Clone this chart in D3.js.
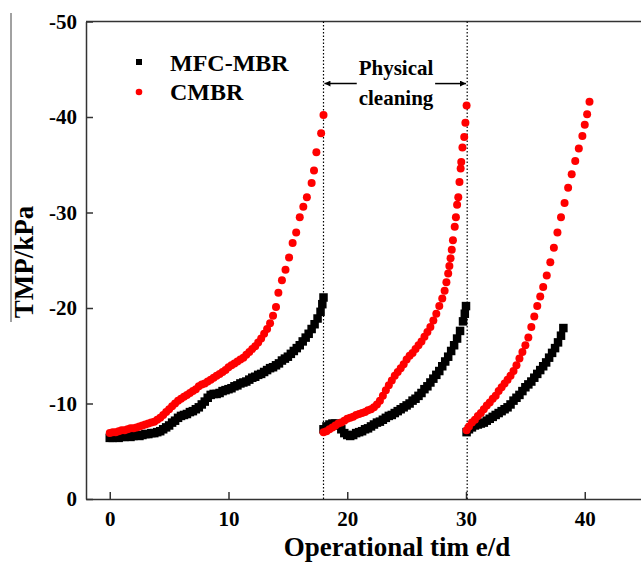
<!DOCTYPE html>
<html>
<head>
<meta charset="utf-8">
<script src="https://cdn.jsdelivr.net/npm/d3@7"></script>
<style>
  body { margin: 0; background: #fff; }
  svg { display: block; }
</style>
</head>
<body>
<script>
// Axis ticks
const xTicks = [0, 10, 20, 30, 40];
const yTicks = [0, -10, -20, -30, -40, -50];

// Days on which the membranes were physically cleaned
const cleaningDays = [18, 30.1];

const seriesNames = ["MFC-MBR", "CMBR"];

// TMP (kPa) vs operational time (d), MFC-MBR, one array per filtration run
const mfcRun1 = [
  [0,-6.4],[0.25,-6.4],[0.5,-6.5],[0.75,-6.4],[1,-6.5],[1.25,-6.5],[1.5,-6.6],[1.75,-6.5],
  [2,-6.6],[2.25,-6.7],[2.5,-6.6],[2.75,-6.7],[3,-6.8],[3.25,-6.8],[3.5,-6.9],[3.75,-6.9],
  [4,-7.0],[4.25,-7.1],[4.5,-7.3],[4.75,-7.5],[5,-7.7],[5.25,-8.0],[5.5,-8.2],[5.75,-8.5],
  [6,-8.7],[6.25,-8.8],[6.5,-8.9],[6.75,-9.1],[7,-9.2],[7.25,-9.4],[7.5,-9.6],[7.75,-9.9],
  [8,-10.2],[8.25,-10.6],[8.5,-10.9],[8.75,-11.0],[9,-11.0],[9.25,-11.1],[9.5,-11.3],[9.75,-11.4],
  [10,-11.5],[10.25,-11.6],[10.5,-11.8],[10.75,-11.9],[11,-12.1],[11.25,-12.2],[11.5,-12.3],[11.75,-12.5],
  [12,-12.7],[12.25,-12.8],[12.5,-13.0],[12.75,-13.1],[13,-13.3],[13.25,-13.5],[13.5,-13.7],[13.75,-13.8],
  [14,-14.0],[14.25,-14.2],[14.5,-14.5],[14.75,-14.7],[15,-14.9],[15.25,-15.2],[15.5,-15.5],[15.75,-15.8],
  [16,-16.1],[16.25,-16.5],[16.5,-16.9],[16.75,-17.3],[17,-17.8],[17.25,-18.3],[17.5,-18.9],[17.75,-19.6],
  [17.9,-20.4],[18,-21.1]
];
const mfcRun2 = [
  [18,-7.3],[18.25,-7.6],[18.5,-7.8],[18.75,-7.9],[19,-7.9],[19.25,-7.7],[19.5,-7.3],[19.75,-6.9],
  [20,-6.7],[20.25,-6.6],[20.5,-6.7],[20.75,-6.9],[21,-7.0],[21.25,-7.1],[21.5,-7.3],[21.75,-7.4],
  [22,-7.6],[22.25,-7.8],[22.5,-8.0],[22.75,-8.1],[23,-8.3],[23.25,-8.5],[23.5,-8.7],[23.75,-8.8],
  [24,-9.0],[24.25,-9.2],[24.5,-9.4],[24.75,-9.6],[25,-9.8],[25.25,-10.0],[25.5,-10.3],[25.75,-10.5],
  [26,-10.8],[26.25,-11.1],[26.5,-11.5],[26.75,-11.8],[27,-12.2],[27.25,-12.6],[27.5,-13.0],[27.75,-13.4],
  [28,-13.9],[28.25,-14.4],[28.5,-14.9],[28.75,-15.5],[29,-16.1],[29.25,-16.8],[29.5,-17.6],[29.75,-18.6],
  [29.9,-19.4],[30,-20.2]
];
const mfcRun3 = [
  [30.05,-7.0],[30.25,-7.3],[30.5,-7.5],[30.75,-7.7],[31,-7.8],[31.25,-7.9],[31.5,-8.0],[31.75,-8.2],
  [32,-8.4],[32.25,-8.6],[32.5,-8.8],[32.75,-9.0],[33,-9.2],[33.25,-9.4],[33.5,-9.6],[33.75,-9.9],
  [34,-10.3],[34.25,-10.6],[34.5,-10.9],[34.75,-11.3],[35,-11.7],[35.25,-12.0],[35.5,-12.3],[35.75,-12.7],
  [36,-13.1],[36.25,-13.5],[36.5,-13.9],[36.75,-14.3],[37,-14.8],[37.25,-15.3],[37.5,-15.8],[37.75,-16.4],
  [38,-17.1],[38.2,-17.9]
];

// TMP (kPa) vs operational time (d), CMBR
const cmbrRun1 = [
  [0,-6.9],[0.25,-7.0],[0.5,-7.0],[0.75,-7.1],[1,-7.2],[1.25,-7.2],[1.5,-7.3],[1.75,-7.4],
  [2,-7.4],[2.25,-7.5],[2.5,-7.6],[2.75,-7.7],[3,-7.8],[3.25,-7.9],[3.5,-8.0],[3.75,-8.1],
  [4,-8.3],[4.25,-8.5],[4.5,-8.8],[4.75,-9.1],[5,-9.4],[5.25,-9.7],[5.5,-10.0],[5.75,-10.3],
  [6,-10.5],[6.25,-10.7],[6.5,-10.9],[6.75,-11.1],[7,-11.3],[7.25,-11.5],[7.5,-11.8],[7.75,-12.0],
  [8,-12.1],[8.25,-12.3],[8.5,-12.5],[8.75,-12.7],[9,-12.9],[9.25,-13.1],[9.5,-13.3],[9.75,-13.5],
  [10,-13.8],[10.25,-14.0],[10.5,-14.2],[10.75,-14.4],[11,-14.6],[11.25,-14.8],[11.5,-15.1],[11.75,-15.4],
  [12,-15.7],[12.25,-16.0],[12.5,-16.4],[12.75,-16.8],[13,-17.3],[13.25,-17.8],[13.5,-18.4],[13.75,-19.2],
  [14,-20.1],[14.2,-21.6],[14.5,-22.9],[14.8,-24.0],[15.1,-25.3],[15.4,-26.8],[15.7,-27.9],[16.0,-29.5],
  [16.3,-30.6],[16.6,-31.6],[17.0,-33.1],[17.2,-34.4],[17.4,-36.3],[17.8,-38.3],[18.0,-40.2]
];
const cmbrRun2 = [
  [18,-7.0],[18.25,-7.1],[18.5,-7.3],[18.75,-7.5],[19,-7.7],[19.25,-7.9],[19.5,-8.0],[19.75,-8.2],
  [20,-8.4],[20.25,-8.5],[20.5,-8.6],[20.75,-8.8],[21,-8.9],[21.25,-9.0],[21.5,-9.1],[21.75,-9.3],
  [22,-9.4],[22.25,-9.6],[22.5,-9.9],[22.75,-10.3],[23,-10.8],[23.25,-11.4],[23.5,-11.9],[23.75,-12.4],
  [24,-12.9],[24.25,-13.3],[24.5,-13.7],[24.75,-14.1],[25,-14.6],[25.25,-15.0],[25.5,-15.3],[25.75,-15.7],
  [26,-16.1],[26.25,-16.5],[26.5,-17.0],[26.75,-17.5],[27,-18.0],[27.25,-18.7],[27.5,-19.4],[27.75,-20.2],
  [28,-21.0],[28.2,-21.8],[28.35,-22.7],[28.5,-23.6],[28.6,-24.4],[28.7,-25.2],[28.8,-26.1],[28.9,-27.1],
  [29.05,-28.5],[29.15,-29.5],[29.25,-30.8],[29.35,-31.6],[29.45,-33.2],[29.55,-34.6],[29.6,-35.3],[29.7,-36.8],
  [29.85,-37.9],[29.95,-39.4],[30.05,-41.2]
];
const cmbrRun3 = [
  [30.05,-7.2],[30.25,-7.6],[30.5,-8.0],[30.75,-8.3],[31,-8.7],[31.25,-9.0],[31.5,-9.4],[31.75,-9.8],
  [32,-10.1],[32.25,-10.5],[32.5,-10.8],[32.75,-11.3],[33,-11.7],[33.25,-12.1],[33.5,-12.5],[33.75,-12.9],
  [34,-13.4],[34.25,-14.0],[34.5,-14.7],[34.75,-15.4],[35,-16.1],[35.25,-16.9],[35.5,-18.0],[35.75,-19.1],
  [36,-20.2],[36.25,-21.2],[36.5,-22.2],[36.8,-23.4],[37.1,-24.8],[37.4,-26.3],[37.7,-27.9],[38.0,-29.5],
  [38.3,-31.0],[38.6,-32.6],[38.9,-34.0],[39.2,-35.4],[39.5,-36.7],[39.8,-38.0],[40.0,-39.2],[40.2,-40.3],
  [40.4,-41.6]
];

const mfcData = [...mfcRun1, ...mfcRun2, ...mfcRun3];
const cmbrData = [...cmbrRun1, ...cmbrRun2, ...cmbrRun3];

const W = 641, H = 564;
const FONT = '"Liberation Serif", "Times New Roman", serif';
const INK = "#000";
const AXIS = "#333";
const RED = "#ff0000";

const svg = d3.select("body").append("svg")
  .attr("width", W).attr("height", H)
  .attr("font-family", FONT);

const x = d3.scaleLinear().domain([-2, 45]).range([86, 86 + 47 * 11.875]);
const y = d3.scaleLinear().domain([0, -50]).range([499, 21.5]);

// Frame: top border
svg.append("line")
  .attr("x1", x.range()[0]).attr("x2", x.range()[1])
  .attr("y1", y(-50)).attr("y2", y(-50))
  .attr("stroke", AXIS).attr("stroke-width", 1.5);

// X axis
const gx = svg.append("g")
  .attr("transform", `translate(0,${y(0)})`)
  .call(d3.axisBottom(x).tickValues(xTicks).tickSizeInner(-7).tickSizeOuter(0)
    .tickPadding(12).tickFormat(d => String(d)));

// Y axis
const gy = svg.append("g")
  .attr("transform", `translate(${x(-2)},0)`)
  .call(d3.axisLeft(y).tickValues(yTicks).tickSizeInner(-7).tickSizeOuter(0)
    .tickPadding(9).tickFormat(d => String(d)));

[gx, gy].forEach(g => {
  g.select(".domain").attr("stroke", AXIS).attr("stroke-width", 1.5);
  g.selectAll(".tick line").attr("stroke", AXIS).attr("stroke-width", 1.5);
  g.selectAll(".tick text")
    .attr("fill", INK).attr("font-family", FONT)
    .attr("font-size", 21).attr("font-weight", "bold");
});

// Physical cleaning markers
svg.selectAll("line.clean").data(cleaningDays).join("line")
  .attr("class", "clean")
  .attr("x1", d => x(d)).attr("x2", d => x(d))
  .attr("y1", y(-50)).attr("y2", y(0))
  .attr("stroke", INK).attr("stroke-width", 1.2)
  .attr("stroke-dasharray", "1.5,2");

// Arrow heads
const defs = svg.append("defs");
defs.append("marker")
  .attr("id", "head").attr("viewBox", "0 0 10 10")
  .attr("refX", 10).attr("refY", 5)
  .attr("markerWidth", 9).attr("markerHeight", 6)
  .attr("markerUnits", "userSpaceOnUse")
  .attr("orient", "auto")
  .append("path").attr("d", "M0,0 L10,5 L0,10 Z").attr("fill", INK);

const arrowY = y(-43.5);
svg.append("line")
  .attr("x1", x(20.8)).attr("x2", x(18.08))
  .attr("y1", arrowY).attr("y2", arrowY)
  .attr("stroke", INK).attr("stroke-width", 1.5)
  .attr("marker-end", "url(#head)");
svg.append("line")
  .attr("x1", x(27.4)).attr("x2", x(30.0))
  .attr("y1", arrowY).attr("y2", arrowY)
  .attr("stroke", INK).attr("stroke-width", 1.5)
  .attr("marker-end", "url(#head)");

svg.append("text")
  .attr("x", 396).attr("y", 75)
  .attr("text-anchor", "middle")
  .attr("font-size", 21).attr("font-weight", "bold").attr("fill", INK)
  .text("Physical");
svg.append("text")
  .attr("x", 396).attr("y", 105)
  .attr("text-anchor", "middle")
  .attr("font-size", 21).attr("font-weight", "bold").attr("fill", INK)
  .text("cleaning");

// Data points
const SQ = 8.5;
svg.append("g").selectAll("rect").data(mfcData).join("rect")
  .attr("x", d => x(d[0]) - SQ / 2)
  .attr("y", d => y(d[1]) - SQ / 2)
  .attr("width", SQ).attr("height", SQ)
  .attr("fill", INK);

svg.append("g").selectAll("circle").data(cmbrData).join("circle")
  .attr("cx", d => x(d[0]))
  .attr("cy", d => y(d[1]))
  .attr("r", 4)
  .attr("fill", RED);

// Legend
const legend = svg.append("g");
legend.append("rect")
  .attr("x", 136).attr("y", 59).attr("width", 6).attr("height", 6)
  .attr("fill", INK);
legend.append("circle")
  .attr("cx", 139).attr("cy", 92).attr("r", 3.3)
  .attr("fill", RED);
legend.selectAll("text").data(seriesNames).join("text")
  .attr("x", 170)
  .attr("y", (d, i) => 71 + i * 29)
  .attr("font-size", 24).attr("font-weight", "bold").attr("fill", INK)
  .text(d => d);

// Axis titles
svg.append("text")
  .attr("x", 397).attr("y", 556)
  .attr("text-anchor", "middle")
  .attr("font-size", 27).attr("font-weight", "bold").attr("fill", INK)
  .text("Operational tim e/d");

svg.append("text")
  .attr("transform", "translate(33,262) rotate(-90)")
  .attr("text-anchor", "middle")
  .attr("font-size", 27).attr("font-weight", "bold").attr("fill", INK)
  .text("TMP/kPa");

// Thin rule beside the y title
svg.append("line")
  .attr("x1", 11).attr("x2", 11).attr("y1", 13).attr("y2", 322)
  .attr("stroke", "#444").attr("stroke-width", 1);
</script>
</body>
</html>
